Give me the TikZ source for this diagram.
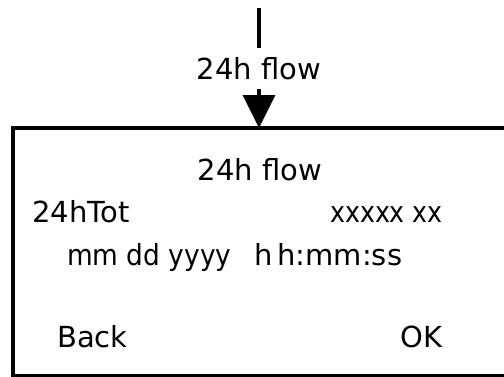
\documentclass[tikz,border=0pt]{standalone}
\usepackage{fontspec}
\setmainfont{DejaVu Sans}
\usetikzlibrary{arrows.meta,positioning}
\tikzset{
    tela/.style={
        rectangle,
        draw,
        line width=4pt,
        outer sep=0pt,
        anchor=north west,
        minimum width=520pt,
        minimum height=248pt
    },
    texto/.style={inner sep=0pt, font=\fontsize{29}{34}\selectfont},
    rotulo/.style={texto, inner ysep=9pt},
    fluxo/.style={-{Triangle[length=33pt,width=32pt]}, line width=3.5pt}
}

\begin{document}
\begin{tikzpicture}[x=1pt, y=-1pt]
        \useasboundingbox (0,0) rectangle (504,376);
        \clip (0,0) rectangle (504,376);

        \coordinate (origem) at (259,8);
        \node[rotulo, below=40pt of origem] (rotulo) {24h flow};
        \node[tela] (tela) at (13,128) {};

        % conteudo da tela
        \node[texto, anchor=base] (titulo) at (260,180) {24h flow};
        \node[texto, anchor=base west] (total) at (32,222) {24hTot};
        \node[texto, anchor=base west] (valor) at (330,222) {\scalebox{0.87}[1]{xxxxx xx}};
        \node[texto, anchor=base west] (data) at (67,265) {\scalebox{0.91}[1]{mm dd yyyy}\hspace{23pt}h\,h:mm:ss};
        \node[texto, anchor=base west] (voltar) at (57,347) {Back};
        \node[texto, anchor=base east] (ok) at (443,347) {OK};

        \draw[line width=3.5pt] (origem) -- (rotulo);
        \draw[fluxo] (rotulo) -- (tela.north -| origem);
    \end{tikzpicture}
\end{document}
